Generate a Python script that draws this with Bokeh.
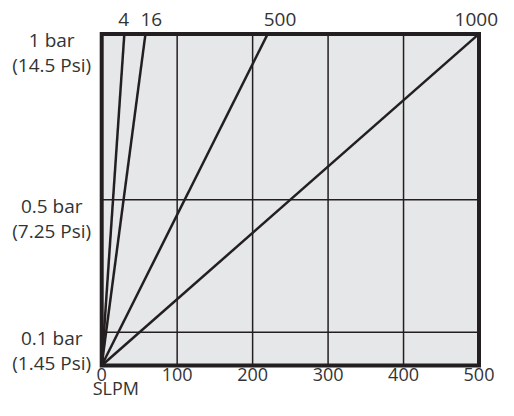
from bokeh.plotting import figure
from bokeh.models import Range1d, ColumnDataSource
from bokeh.core.properties import value
from bokeh.embed import file_html
from bokeh.resources import INLINE

# ---- data ----
series_names = ["4", "16", "500", "1000"]
flow_at_1bar = [30, 58, 220, 500]          # SLPM reached at 1 bar for each range
x_ticks = [0, 100, 200, 300, 400, 500]
x_tick_labels = ["0", "100", "200", "300", "400", "500"]
y_ticks = [0.1, 0.5, 1.0]
y_labels_bar = ["0.1 bar", "0.5 bar", "1 bar"]
y_labels_psi = ["(1.45 Psi)", "(7.25 Psi)", "(14.5 Psi)"]
x_title = "SLPM"

# ---- style ----
FONT = value("Open Sans")
FS = value("19px")
FS_BOTTOM = value("18px")
INK = "#231f20"
TXT = "#333333"
W, H = 498, 400
PX_LEFT, PX_RIGHT = 101.2, 478.5      # pixel columns of x = 0 and x = 500
PX_BOTTOM, PX_TOP = 365.0, 33.4       # pixel rows of y = 0 and y = 1

xmin, xmax = x_ticks[0], x_ticks[-1]
ymin, ymax = 0.0, y_ticks[-1]
kx = (PX_RIGHT - PX_LEFT) / (xmax - xmin)
ky = (PX_BOTTOM - PX_TOP) / (ymax - ymin)
x_range = Range1d(xmin - PX_LEFT / kx, xmax + (W - PX_RIGHT) / kx)
y_range = Range1d(ymin - (H - PX_BOTTOM) / ky, ymax + PX_TOP / ky)

p = figure(width=W, height=H, output_backend="svg", toolbar_location=None,
           x_range=x_range, y_range=y_range, min_border=0)
p.xaxis.visible = False
p.yaxis.visible = False
p.grid.visible = False
p.outline_line_color = None
p.background_fill_color = "white"
p.border_fill_color = "white"

# plot area background
p.quad(left=[xmin], right=[xmax], bottom=[ymin], top=[ymax], fill_color="#e6e7e9", line_color=None)

# grid lines
gx = [t for t in x_ticks if xmin < t < xmax]
p.segment(x0=gx, y0=[ymin] * len(gx), x1=gx, y1=[ymax] * len(gx), line_color=INK, line_width=1.5)
gy = [t for t in y_ticks if t < ymax]
p.segment(x0=[xmin] * len(gy), y0=gy, x1=[xmax] * len(gy), y1=gy, line_color=INK, line_width=1.5)

# series lines from origin
src = ColumnDataSource(dict(x0=[xmin] * len(flow_at_1bar), y0=[ymin] * len(flow_at_1bar),
                            x1=flow_at_1bar, y1=[ymax] * len(flow_at_1bar), name=series_names,
                            align=["left", "left", "left", "right"], dx=[-6, -5, -4, 19]))
p.segment(x0="x0", y0="y0", x1="x1", y1="y1", source=src, line_color=INK, line_width=2.5)

# frame
p.quad(left=[xmin], right=[xmax], bottom=[ymin], top=[ymax], fill_color=None,
       line_color=INK, line_width=4, line_join="miter")

# series labels above the frame
p.text(x="x1", y="y1", text="name", source=src, x_offset="dx", y_offset=-14,
       text_align="align", text_baseline="alphabetic",
       text_font=FONT, text_font_size=FS, text_color=TXT)

# x tick labels
p.text(x=x_ticks, y=[ymin] * len(x_ticks), text=x_tick_labels, y_offset=9,
       text_align="center", text_baseline="alphabetic",
       text_font=FONT, text_font_size=FS_BOTTOM, text_color=TXT)
p.text(x=[xmin], y=[ymin], text=[x_title], x_offset=-9, y_offset=22,
       text_align="left", text_baseline="alphabetic",
       text_font=FONT, text_font_size=FS_BOTTOM, text_color=TXT)

# y tick labels (two lines)
p.text(x=[xmin] * len(y_ticks), y=y_ticks, text=y_labels_bar, x_offset=-50, y_offset=6,
       text_align="center", text_baseline="alphabetic",
       text_font=FONT, text_font_size=FS, text_color=TXT)
p.text(x=[xmin] * len(y_ticks), y=y_ticks, text=y_labels_psi, x_offset=-50, y_offset=31,
       text_align="center", text_baseline="alphabetic",
       text_font=FONT, text_font_size=FS, text_color=TXT)

open("out.html", "w").write(file_html(p, INLINE))
